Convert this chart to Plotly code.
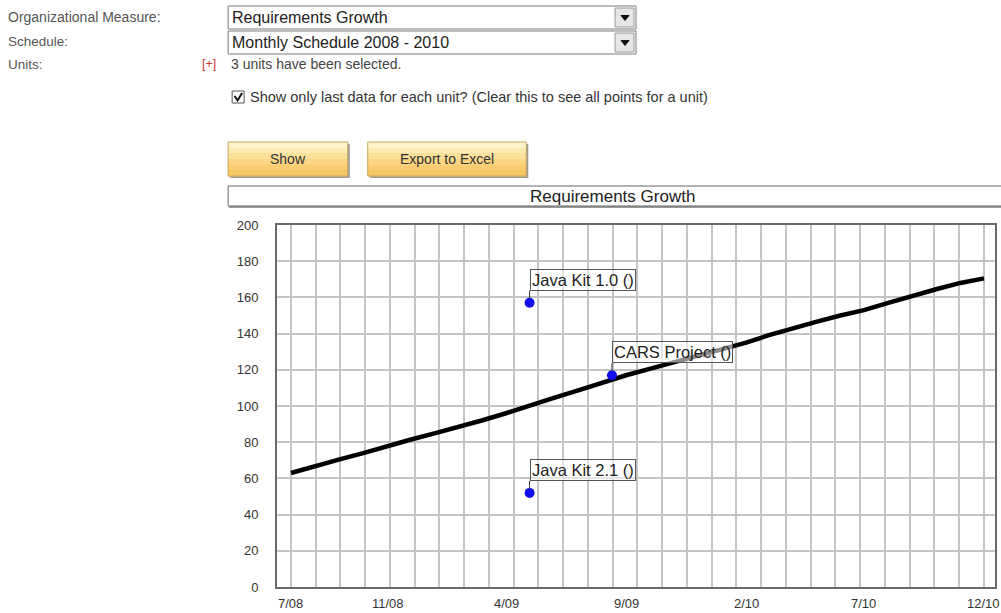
import plotly.graph_objects as go
from datetime import datetime

# ---------------- data ----------------
trend_months = ["2008-07-01", "2008-08-01", "2008-09-01", "2008-10-01", "2008-11-01", "2008-12-01",
                "2009-01-01", "2009-02-01", "2009-03-01", "2009-04-01", "2009-05-01", "2009-06-01",
                "2009-07-01", "2009-08-01", "2009-09-01", "2009-10-01", "2009-11-01", "2009-12-01",
                "2010-01-01", "2010-02-01", "2010-03-01", "2010-04-01", "2010-05-01", "2010-06-01",
                "2010-07-01", "2010-08-01", "2010-09-01", "2010-10-01", "2010-11-01", "2010-12-01"]
trend_values = [63, 67, 70.5, 74, 78, 81.5, 85, 88.5, 92, 96, 100.5, 104.5, 108.5, 113, 117,
                120.5, 124, 127.5, 131, 135, 139, 143, 146.5, 150, 153, 157, 161, 164.5, 168, 170.5]

unit_names = ["Java Kit 1.0 ()", "CARS Project ()", "Java Kit 2.1 ()"]
unit_dates = ["2009-05-01", "2009-08-14", "2009-05-01"]
unit_values = [157, 117, 52]

tick_labels = ["7/08", "11/08", "4/09", "9/09", "2/10", "7/10", "12/10"]
tick_dates = ["2008-07-01", "2008-11-01", "2009-04-01", "2009-09-01", "2010-02-01", "2010-07-01", "2010-12-01"]
y_ticks = [0, 20, 40, 60, 80, 100, 120, 140, 160, 180, 200]

# ---------------- layout helpers ----------------
W, H = 1001, 613
L, R, T, B = 277, 4, 225, 26
PW, PH = W - L - R, H - T - B

def px(x):
    return (x - L) / PW

def py(y):
    return (H - B - y) / PH

FONT = "Arial, Liberation Sans, sans-serif"

start = datetime(2008, 7, 1)
end = datetime(2010, 12, 1)
grid_step = (end - start) / 28          # the chart's vertical grid spacing
grid_ms = grid_step.total_seconds() * 1000
x_range = [(start - grid_step * 0.565).strftime("%Y-%m-%d %H:%M"),
           (end + grid_step * 0.445).strftime("%Y-%m-%d %H:%M")]

fig = go.Figure()
fig.add_trace(go.Scatter(x=trend_months, y=trend_values, mode="lines",
                         line=dict(color="black", width=4.5), hoverinfo="skip", showlegend=False))
fig.add_trace(go.Scatter(x=unit_dates, y=unit_values, mode="markers",
                         marker=dict(color="#1010ee", size=10), showlegend=False,
                         text=unit_names))

for name, d, v in zip(unit_names, unit_dates, unit_values):
    fig.add_annotation(x=d, y=v, xref="x", yref="y", text=name, showarrow=True,
                       arrowhead=0, arrowwidth=1, arrowcolor="#333", ax=0, ay=-12,
                       standoff=4, xanchor="left", yanchor="bottom",
                       bgcolor="rgba(255,255,255,0.55)", bordercolor="#555", borderwidth=1,
                       borderpad=1, font=dict(family=FONT, size=16.5, color="#222"))

# x tick labels at month positions
for lab, d in zip(tick_labels, tick_dates):
    fig.add_annotation(x=d, y=0, xref="x", yref="paper", text=lab, showarrow=False,
                       xanchor="center", yanchor="top", yshift=-7,
                       font=dict(family=FONT, size=13, color="#333"))

shapes = []
annos = []

def rect(x0, y0, x1, y1, fill, line="#888", lw=1):
    shapes.append(dict(type="rect", xref="paper", yref="paper", x0=px(x0), x1=px(x1),
                       y0=py(y1), y1=py(y0), fillcolor=fill, line=dict(color=line, width=lw),
                       layer="above"))

def text(x, y, s, size=13, color="#555", anchor="left"):
    shift = -3 if anchor == "left" else 0
    annos.append(dict(x=px(x + shift), y=py(y), xref="paper", yref="paper", text=s, showarrow=False,
                      xanchor=anchor, yanchor="middle",
                      font=dict(family=FONT, size=size, color=color)))

# form labels
text(8, 17, "Organizational Measure:", 14)
text(8, 41, "Schedule:", 13.5)
text(8, 64, "Units:", 13.5)

# dropdowns
for (y0, y1, s) in [(6, 29, "Requirements Growth"), (31, 54, "Monthly Schedule 2008 - 2010")]:
    rect(228, y0, 637, y1, "white", "#7a7a7a", 1)
    rect(616, y0 + 2, 635, y1 - 2, "#e6e6e6", "#9a9a9a", 1)
    cy = (y0 + y1) / 2
    shapes.append(dict(type="path", xref="paper", yref="paper", layer="above",
                       path=f"M {px(622)} {py(cy-2)} L {px(630)} {py(cy-2)} L {px(626)} {py(cy+3)} Z",
                       fillcolor="#111", line=dict(color="#111", width=1)))
    text(233, cy, s, 16, "#222")

text(203, 64, "[+]", 12.5, "#cc3333")
text(232, 64, "3 units have been selected.", 14, "#444")

# checkbox
rect(232, 91, 244, 103, "white", "#555", 1)
shapes.append(dict(type="path", xref="paper", yref="paper", layer="above",
                   path=f"M {px(234.5)} {py(96)} L {px(237.5)} {py(100.5)} L {px(242)} {py(93)}",
                   line=dict(color="#111", width=2)))
text(251, 97, "Show only last data for each unit? (Clear this to see all points for a unit)", 14.5, "#333")

# buttons (banded gradient)
bands = ["#fff3cf", "#fdeab0", "#fce09a", "#fbd684", "#f9cd70", "#f7c862"]
for (x0, x1, s) in [(228, 348, "Show"), (368, 527, "Export to Excel")]:
    y0, y1 = 142, 176
    rect(x0 + 2, y0 + 2, x1 + 2, y1 + 2, "#9c9c9c", "#9c9c9c", 0)
    h = (y1 - y0) / len(bands)
    for i, c in enumerate(bands):
        rect(x0, y0 + i * h, x1, y0 + (i + 1) * h + 0.5, c, c, 0)
    rect(x0, y0, x1, y1, "rgba(0,0,0,0)", "#c9a55a", 1)
    text((x0 + x1) / 2, 159, s, 14, "#333", "center")

# chart title box
rect(229, 188, 1012, 208, "#9a9a9a", "#9a9a9a", 0)
rect(228, 186, 1010, 206, "white", "#666", 1)
text(613, 196, "Requirements Growth", 17, "#222", "center")

fig.update_layout(
    width=W, height=H, autosize=False,
    margin=dict(l=L, r=R, t=T, b=B, pad=0),
    paper_bgcolor="white", plot_bgcolor="white",
    showlegend=False,
    font=dict(family=FONT, size=13, color="#333"),
    shapes=shapes,
    annotations=list(fig.layout.annotations) + annos,
    xaxis=dict(type="date", range=x_range, tick0=start.strftime("%Y-%m-%d"), dtick=grid_ms,
               showticklabels=False, showgrid=True, gridcolor="#c4c4c4", gridwidth=1.5,
               showline=True, linecolor="#6a6a6a", linewidth=2, mirror=True,
               ticks="", zeroline=False),
    yaxis=dict(range=[0, 200], tickvals=y_ticks, showgrid=True, gridcolor="#c4c4c4", gridwidth=1.5,
               showline=True, linecolor="#6a6a6a", linewidth=2, mirror=True,
               ticks="", ticklabelstandoff=14, zeroline=False,
               tickfont=dict(family=FONT, size=13, color="#333")),
)

fig.write_html("out.html", post_script="document.body.style.margin='0';",
               config={"displayModeBar": False})
